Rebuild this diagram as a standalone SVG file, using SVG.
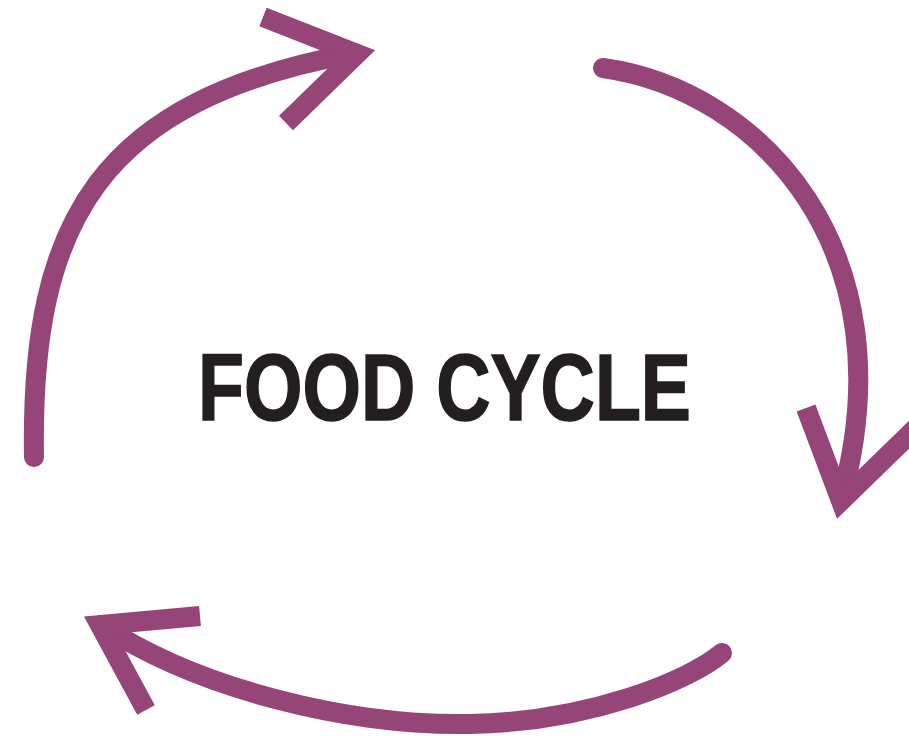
<svg xmlns="http://www.w3.org/2000/svg" width="909" height="740" viewBox="0 0 909 740">
<style>
.arc{fill:none;stroke:#954577;stroke-width:20;stroke-linecap:round}
.head{fill:none;stroke:#954577;stroke-width:20;stroke-linecap:butt;stroke-linejoin:miter;stroke-miterlimit:6}
.title{font-family:"Liberation Sans",Arial,sans-serif;font-weight:bold;font-size:94px;fill:#231f20;stroke:#231f20;stroke-width:1.6}
</style>
<rect width="909" height="740" fill="#ffffff"/>
<g id="label">
<text class="title" x="198" y="420" textLength="493" lengthAdjust="spacingAndGlyphs">FOOD CYCLE</text>
</g>
<g id="connectors">
<g id="arrow-top-left">
<path class="arc" d="M34,457 C30,220 100,100 355,53"/>
<polyline class="head" points="263,17 357,54 286,123"/>
</g>
<g id="arrow-right">
<path class="arc" d="M603,68 C760,90 910,250 841,500"/>
<polyline class="head" points="806,408 841,501 920,424"/>
</g>
<g id="arrow-bottom">
<path class="arc" d="M722,653 C690,680 590,722 470,724 S200,690 101,625"/>
<polyline class="head" points="200,616 100,625 146,710"/>
</g>
</g>
</svg>
